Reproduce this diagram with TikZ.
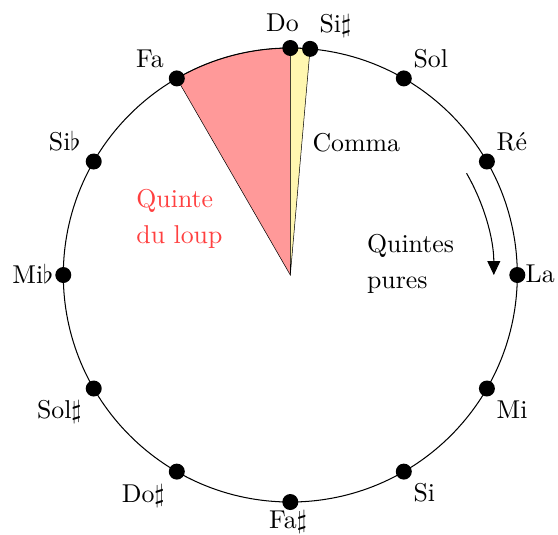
\documentclass[tikz,border=0pt]{standalone}
\usetikzlibrary{arrows.meta}
\definecolor{combyellow}{RGB}{255,247,176}
\begin{document}
\begin{tikzpicture}[x=0.3876pt,y=0.3876pt,
  dot/.style={circle,fill=black,inner sep=0pt,minimum size=6.2pt},
  note/.style={inner sep=0pt},
  rim/.style={line width=0.4pt},
  sector/.style={draw=black,line width=0.2pt},
  tune/.style={inner sep=0pt,align=left,anchor=north west,font=\fontsize{10}{14}\selectfont}]
\useasboundingbox (-290.3,-259) rectangle (267.7,275);
\coordinate (O) at (0,0);
\filldraw[sector,fill=red!40] (O) -- (120:227) arc[start angle=120,end angle=90,radius=227] -- cycle;
\filldraw[sector,fill=combyellow] (O) -- (90:227) arc[start angle=90,end angle=85,radius=227] -- cycle;
\draw[rim] (O) circle[radius=227];
\foreach \a/\n in {90/do,60/sol,30/re,0/la,-30/mi,-60/si,-90/fad,-120/dod,-150/sold,180/mib,150/sib,120/fa,85/sid}
  \node[dot] (\n) at (\a:227) {};
% note names
\node[note,anchor=base] (ldo) at (-7.8,243.3) {Do};
\node[note,anchor=base west] (lsid) at (28.7,242.7) {Si$\sharp$};
\node[note,anchor=base west] (lsol) at (122.7,207.3) {Sol};
\node[note,anchor=base west] (lre) at (205.9,124.3) {Ré};
\node[note,anchor=base west] (lla) at (234.9,-7.5) {La};
\node[note,anchor=base west] (lmi) at (205.9,-143) {Mi};
\node[note,anchor=base west] (lsi) at (122.7,-226) {Si};
\node[note,anchor=base] (lfad) at (-2.3,-253.3) {Fa$\sharp$};
\node[note,anchor=base east] (ldod) at (-125.3,-227) {Do$\sharp$};
\node[note,anchor=base east] (lsold) at (-208.3,-143) {Sol$\sharp$};
\node[note,anchor=base east] (lmib) at (-236.5,-8.5) {Mi$\flat$};
\node[note,anchor=base east] (lsib) at (-209.3,124.3) {Si$\flat$};
\node[note,anchor=base east] (lfa) at (-126,207.3) {Fa};
% arrow of pure fifths
\coordinate (arrS) at (30:203.5);
\draw[rim,-{Triangle[length=5.4pt,width=5pt]}] (arrS) arc[start angle=30,end angle=0,radius=203.5];
% texts
\node[note,anchor=base west] (comma) at (21.7,123.5) {Comma};
\node[tune] (pures) at (76.3,40.9) {Quintes\\pures};
\node[tune,text=red!75] (loup) at (-154.4,85.9) {Quinte\\du loup};
\end{tikzpicture}
\end{document}
